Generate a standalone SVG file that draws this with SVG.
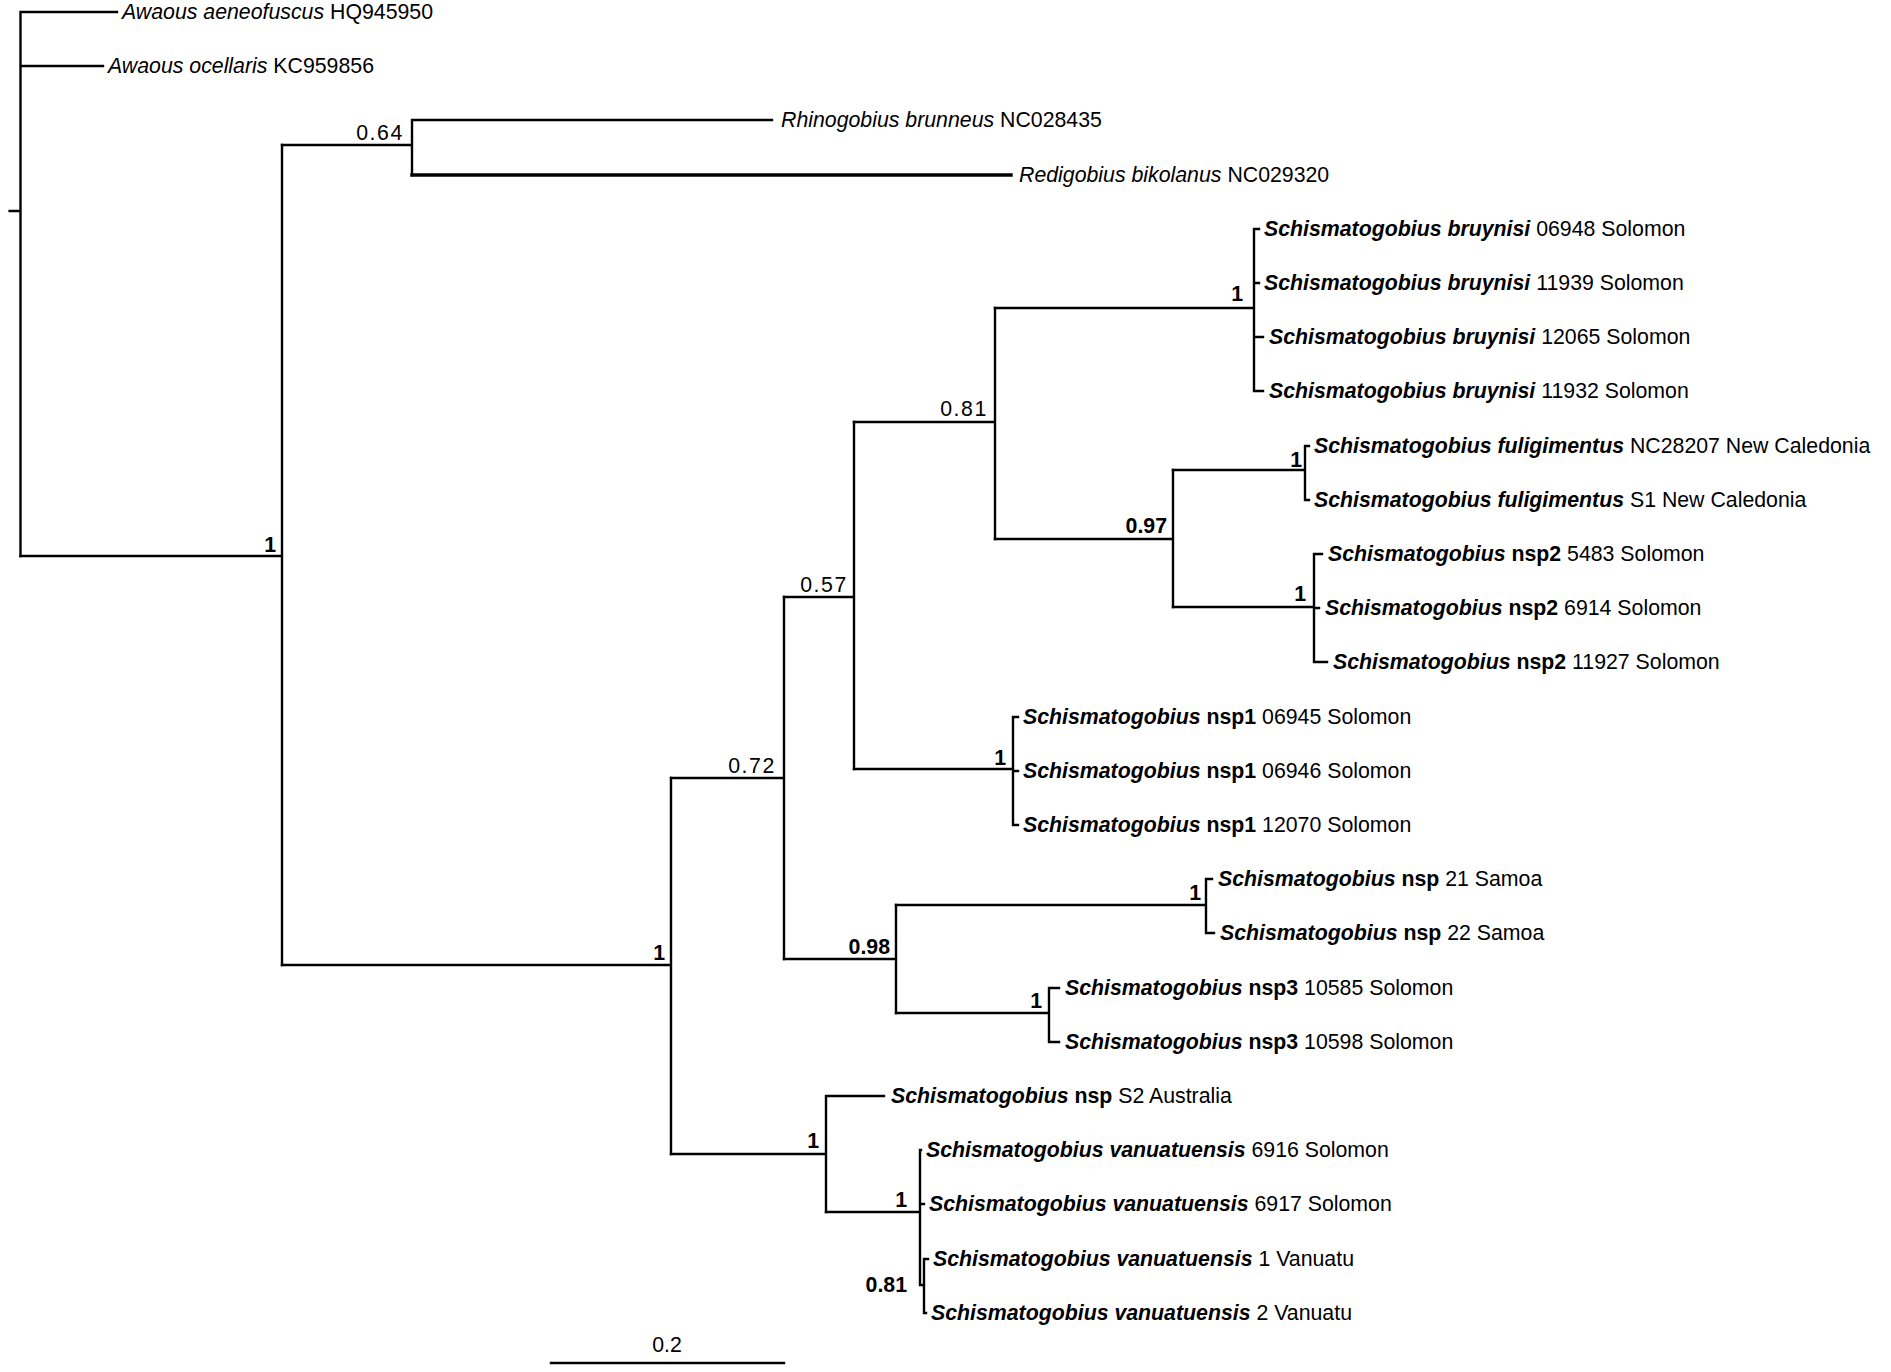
<svg xmlns="http://www.w3.org/2000/svg" width="1891" height="1372" viewBox="0 0 1891 1372">
<style>
text{font-family:"Liberation Sans",Arial,Helvetica,sans-serif;font-size:21.3px;fill:#000}
.i{font-style:italic}
.b{font-weight:bold}
.supn{letter-spacing:1.6px}
.supb{font-weight:bold}
#connectors path{fill:none;stroke:#000;stroke-width:2.4;stroke-linecap:square}
#connectors path.thick{stroke-width:3.4}
</style>
<rect width="1891" height="1372" fill="#fff"/>
<g id="connectors">
<path d="M9.6 211H20.5M20.5 12V556M20.5 12H117M20.5 66H103"/>
<path d="M20.5 556H282M282 145V965"/>
<path d="M282 145H412M412 120V175M412 120H772"/>
<path class="thick" d="M412 175H1011"/>
<path d="M282 965H671M671 778V1154"/>
<path d="M671 778H784M784 597V959"/>
<path d="M784 597H854M854 422V769"/>
<path d="M854 422H995M995 308V539"/>
<path d="M995 308H1254M1254 229V391M1254 229H1259M1254 283H1259M1254 337H1263M1254 391H1263"/>
<path d="M995 539H1173M1173 470V607"/>
<path d="M1173 470H1305M1305 446V500M1305 446H1309M1305 500H1309"/>
<path d="M1173 607H1314M1314 554V662M1314 554H1322M1314 608H1319M1314 662H1327"/>
<path d="M854 769H1013M1013 717V825M1013 717H1018M1013 771H1018M1013 825H1018"/>
<path d="M784 959H896M896 905V1013"/>
<path d="M896 905H1206M1206 879V933M1206 879H1212M1206 933H1214"/>
<path d="M896 1013H1049M1049 988V1042M1049 988H1059M1049 1042H1059"/>
<path d="M671 1154H826M826 1096V1212M826 1096H884"/>
<path d="M826 1212H920M920 1150V1285M920 1150H921M920 1204H924M920 1285H924M924 1259V1313M924 1259H928M924 1313H926"/>
<path d="M551 1363H784"/>
</g>
<g id="tips">
<g id="t1"><text x="122" y="19"><tspan class="i">Awaous aeneofuscus</tspan> HQ945950</text></g>
<g id="t2"><text x="108" y="73"><tspan class="i">Awaous ocellaris</tspan> KC959856</text></g>
<g id="t3"><text x="781" y="127"><tspan class="i">Rhinogobius brunneus</tspan> NC028435</text></g>
<g id="t4"><text x="1019" y="182"><tspan class="i">Redigobius bikolanus</tspan> NC029320</text></g>
<g id="t5"><text x="1264" y="236"><tspan class="i b">Schismatogobius bruynisi</tspan> 06948 Solomon</text></g>
<g id="t6"><text x="1264" y="290"><tspan class="i b">Schismatogobius bruynisi</tspan> 11939 Solomon</text></g>
<g id="t7"><text x="1269" y="344"><tspan class="i b">Schismatogobius bruynisi</tspan> 12065 Solomon</text></g>
<g id="t8"><text x="1269" y="398"><tspan class="i b">Schismatogobius bruynisi</tspan> 11932 Solomon</text></g>
<g id="t9"><text x="1314" y="453"><tspan class="i b">Schismatogobius fuligimentus</tspan> NC28207 New Caledonia</text></g>
<g id="t10"><text x="1314" y="507"><tspan class="i b">Schismatogobius fuligimentus</tspan> S1 New Caledonia</text></g>
<g id="t11"><text x="1328" y="561"><tspan class="i b">Schismatogobius</tspan> <tspan class="b">nsp2</tspan> 5483 Solomon</text></g>
<g id="t12"><text x="1325" y="615"><tspan class="i b">Schismatogobius</tspan> <tspan class="b">nsp2</tspan> 6914 Solomon</text></g>
<g id="t13"><text x="1333" y="669"><tspan class="i b">Schismatogobius</tspan> <tspan class="b">nsp2</tspan> 11927 Solomon</text></g>
<g id="t14"><text x="1023" y="724"><tspan class="i b">Schismatogobius</tspan> <tspan class="b">nsp1</tspan> 06945 Solomon</text></g>
<g id="t15"><text x="1023" y="778"><tspan class="i b">Schismatogobius</tspan> <tspan class="b">nsp1</tspan> 06946 Solomon</text></g>
<g id="t16"><text x="1023" y="832"><tspan class="i b">Schismatogobius</tspan> <tspan class="b">nsp1</tspan> 12070 Solomon</text></g>
<g id="t17"><text x="1218" y="886"><tspan class="i b">Schismatogobius</tspan> <tspan class="b">nsp</tspan> 21 Samoa</text></g>
<g id="t18"><text x="1220" y="940"><tspan class="i b">Schismatogobius</tspan> <tspan class="b">nsp</tspan> 22 Samoa</text></g>
<g id="t19"><text x="1065" y="995"><tspan class="i b">Schismatogobius</tspan> <tspan class="b">nsp3</tspan> 10585 Solomon</text></g>
<g id="t20"><text x="1065" y="1049"><tspan class="i b">Schismatogobius</tspan> <tspan class="b">nsp3</tspan> 10598 Solomon</text></g>
<g id="t21"><text x="891" y="1103"><tspan class="i b">Schismatogobius</tspan> <tspan class="b">nsp</tspan> S2 Australia</text></g>
<g id="t22"><text x="926" y="1157"><tspan class="i b">Schismatogobius vanuatuensis</tspan> 6916 Solomon</text></g>
<g id="t23"><text x="929" y="1211"><tspan class="i b">Schismatogobius vanuatuensis</tspan> 6917 Solomon</text></g>
<g id="t24"><text x="933" y="1266"><tspan class="i b">Schismatogobius vanuatuensis</tspan> 1 Vanuatu</text></g>
<g id="t25"><text x="931" y="1320"><tspan class="i b">Schismatogobius vanuatuensis</tspan> 2 Vanuatu</text></g>
</g>
<g id="nodes" text-anchor="end">
<g id="nA"><text class="supb" x="276" y="552">1</text></g>
<g id="n064"><text class="supn" x="404" y="140">0.64</text></g>
<g id="nB"><text class="supb" x="665" y="960">1</text></g>
<g id="n072"><text class="supn" x="776" y="773">0.72</text></g>
<g id="n057"><text class="supn" x="848" y="592">0.57</text></g>
<g id="n081"><text class="supn" x="988" y="416">0.81</text></g>
<g id="nbru"><text class="supb" x="1243" y="301">1</text></g>
<g id="n097"><text class="supb" x="1167" y="533">0.97</text></g>
<g id="nful"><text class="supb" x="1302" y="467">1</text></g>
<g id="nnsp2"><text class="supb" x="1306" y="601">1</text></g>
<g id="nnsp1"><text class="supb" x="1006" y="765">1</text></g>
<g id="n098"><text class="supb" x="890" y="954">0.98</text></g>
<g id="nsam"><text class="supb" x="1201" y="900">1</text></g>
<g id="nnsp3"><text class="supb" x="1042" y="1008">1</text></g>
<g id="nC"><text class="supb" x="819" y="1148">1</text></g>
<g id="nvan"><text class="supb" x="907" y="1207">1</text></g>
<g id="nvan081"><text class="supb" x="907" y="1292">0.81</text></g>
</g>
<g id="scalebar"><text x="667" y="1352" text-anchor="middle">0.2</text></g>
</svg>
